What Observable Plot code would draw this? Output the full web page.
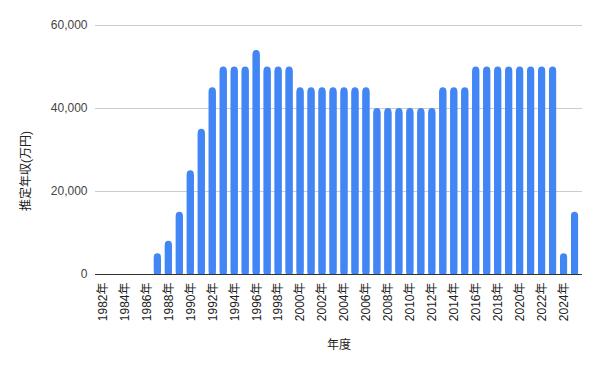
<!DOCTYPE html>
<html>
<head>
<meta charset="utf-8">
<script src="https://cdn.jsdelivr.net/npm/d3@7"></script>
<script src="https://cdn.jsdelivr.net/npm/@observablehq/plot@0.6"></script>
<style>
  html, body { margin: 0; padding: 0; background: #fff; }
  svg { display: block; }
</style>
</head>
<body>
<div id="chart"></div>
<script>
const years = [1982,1983,1984,1985,1986,1987,1988,1989,1990,1991,1992,1993,1994,1995,1996,1997,1998,1999,2000,2001,2002,2003,2004,2005,2006,2007,2008,2009,2010,2011,2012,2013,2014,2015,2016,2017,2018,2019,2020,2021,2022,2023,2024,2025];
const values = [0,0,0,0,0,5000,8000,15000,25000,35000,45000,50000,50000,50000,54000,50000,50000,50000,45000,45000,45000,45000,45000,45000,45000,40000,40000,40000,40000,40000,40000,45000,45000,45000,50000,50000,50000,50000,50000,50000,50000,50000,5000,15000];
const yTicks = [0, 20000, 40000, 60000];
const xLabel = "年度";
const yLabel = "推定年収(万円)";

const data = years.map((y, i) => ({year: y, value: values[i]}));
const nonZero = data.filter(d => d.value > 0);
const font = "'Liberation Sans', Arial, 'Noto Sans CJK JP', sans-serif";

const chart = Plot.plot({
  width: 601,
  height: 371,
  marginLeft: 95,
  marginRight: 19,
  marginTop: 25,
  marginBottom: 97,
  style: {fontFamily: font, fontSize: "12px", color: "#222", background: "#fff"},
  x: {type: "band", domain: years, padding: 0.36, label: null},
  y: {domain: [0, 60000], label: null},
  marks: [
    Plot.gridY(yTicks, {stroke: "#cccccc", strokeOpacity: 1}),
    Plot.barY(nonZero, {x: "year", y: "value", fill: "#4285f4", rx: 3.5}),
    Plot.barY(nonZero, {x: "year", y: "value", fill: "#4285f4", insetTop: 4}),
    Plot.ruleY([0], {stroke: "#333333", strokeWidth: 1}),
    Plot.axisY(yTicks, {tickSize: 0, tickPadding: 8, tickFormat: d3.format(","), fill: "#444", label: null}),
    Plot.axisX({tickSize: 0, tickPadding: 8, tickRotate: -90, fill: "#222",
      tickFormat: d => (d % 2 === 0 ? d + "年" : ""), label: null}),
    Plot.text([xLabel], {frameAnchor: "bottom", lineAnchor: "middle", dy: 71, fill: "#222", fontSize: 12}),
    Plot.text([yLabel], {frameAnchor: "left", textAnchor: "middle", lineAnchor: "middle", dx: -69, dy: 21, rotate: -90, fill: "#222", fontSize: 12})
  ]
});
document.getElementById("chart").appendChild(chart);
</script>
</body>
</html>
